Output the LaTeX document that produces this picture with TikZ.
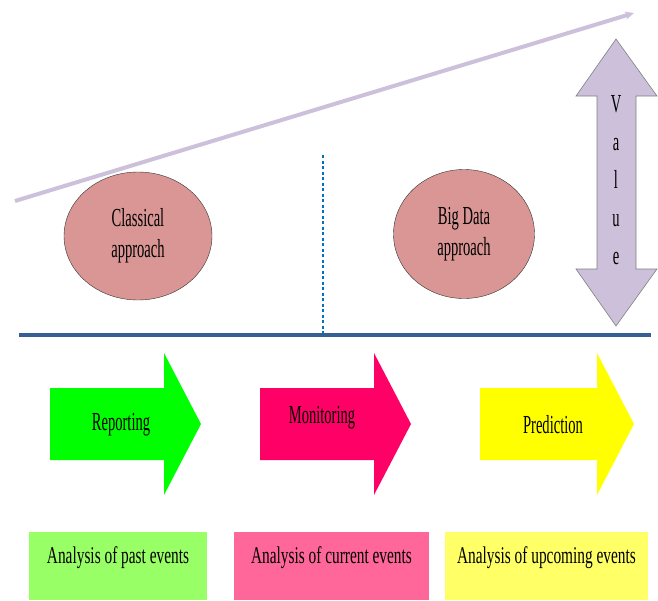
\documentclass[tikz,border=0pt]{standalone}
\usepackage{fontspec}
\setmainfont{Liberation Serif}[FakeStretch=0.64]
\newfontfamily\tallserif{Liberation Serif}[FakeStretch=0.56]
\usepackage{tikz}
\usetikzlibrary{positioning}
\usetikzlibrary{shapes,arrows,calc,arrows.meta}

\definecolor{lilac}{HTML}{CCC0DA}
\definecolor{rose}{HTML}{D99694}
\definecolor{axisblue}{HTML}{376092}
\definecolor{dotblue}{HTML}{0070C0}
\definecolor{arrgreen}{HTML}{00FF00}
\definecolor{arrmagenta}{HTML}{FF0066}
\definecolor{arryellow}{HTML}{FFFF00}
\definecolor{boxgreen}{HTML}{99FF66}
\definecolor{boxpink}{HTML}{FF6699}
\definecolor{boxyellow}{HTML}{FFFF66}

\begin{document}
\begin{tikzpicture}[x=1pt, y=-1pt, font=\fontsize{24}{28}\selectfont,
  approach/.style={ellipse, draw=black!80, fill=rose, align=center, inner sep=0pt, font=\tallserif\fontsize{26}{31}\selectfont},
  phase/.style={inner sep=0pt, font=\tallserif\fontsize{26}{30}\selectfont},
  analysis/.style={rectangle, anchor=north, minimum height=68pt, inner sep=0pt, text height=10pt, text depth=16pt}]
  \useasboundingbox (0,0) rectangle (658,600);

  % rising value line
  \coordinate (rs) at (15,201);
  \coordinate (re) at (634,13);
  \draw[lilac, line width=4pt, -{Stealth[length=9pt,width=8pt]}] (rs) -- (re);

  % approaches
  \node[approach, minimum width=148pt, minimum height=128pt] (classic) at (138,236) {Classical\\approach};
  \node[approach, minimum width=141pt, minimum height=129pt] (bigdata) at (464,234) {Big Data\\approach};

  % value arrow
  \filldraw[fill=lilac, draw=black!50, semithick]
    (616,39) -- (657,96) -- (636,96) -- (636,269) -- (657,269) -- (616,326)
    -- (576,269) -- (597,269) -- (597,96) -- (576,96) -- cycle;
  \node[align=center, font=\tallserif\fontsize{26}{38}\selectfont] (value) at (616,180) {V\\a\\l\\u\\e};

  % time axis
  \coordinate (al) at (19,335);
  \coordinate (ar) at (651,335);
  \coordinate (dtop) at (323,155);
  \draw[axisblue, line width=3.5pt] (al) -- (ar);
  \draw[dotblue, line width=1.6pt, dash pattern=on 3pt off 2.5pt] (dtop) -- (dtop |- al);

  % phases
  \fill[arrgreen] (50,388) -- (164,388) -- (164,353) -- (201,424) -- (164,495) -- (164,460) -- (50,460) -- cycle;
  \fill[arrmagenta] (260,388) -- (374,388) -- (374,353) -- (411,424) -- (374,495) -- (374,460) -- (260,460) -- cycle;
  \fill[arryellow] (480,388) -- (597,388) -- (597,353) -- (634,424) -- (597,495) -- (597,460) -- (480,460) -- cycle;
  \node[phase] (report) at (121,425) {Reporting};
  \node[phase] (monitor) at (322,418) {Monitoring};
  \node[phase] (predict) at (553,425) {Prediction};

  % analysis boxes
  \node[analysis, fill=boxgreen, minimum width=178pt] (past) at (118,532) {Analysis of past events};
  \node[analysis, fill=boxpink, minimum width=195pt] (current) at (331.5,532) {Analysis of current events};
  \node[analysis, fill=boxyellow, minimum width=203pt] (upcoming) at (546.5,532) {Analysis of upcoming events};
\end{tikzpicture}
\end{document}
